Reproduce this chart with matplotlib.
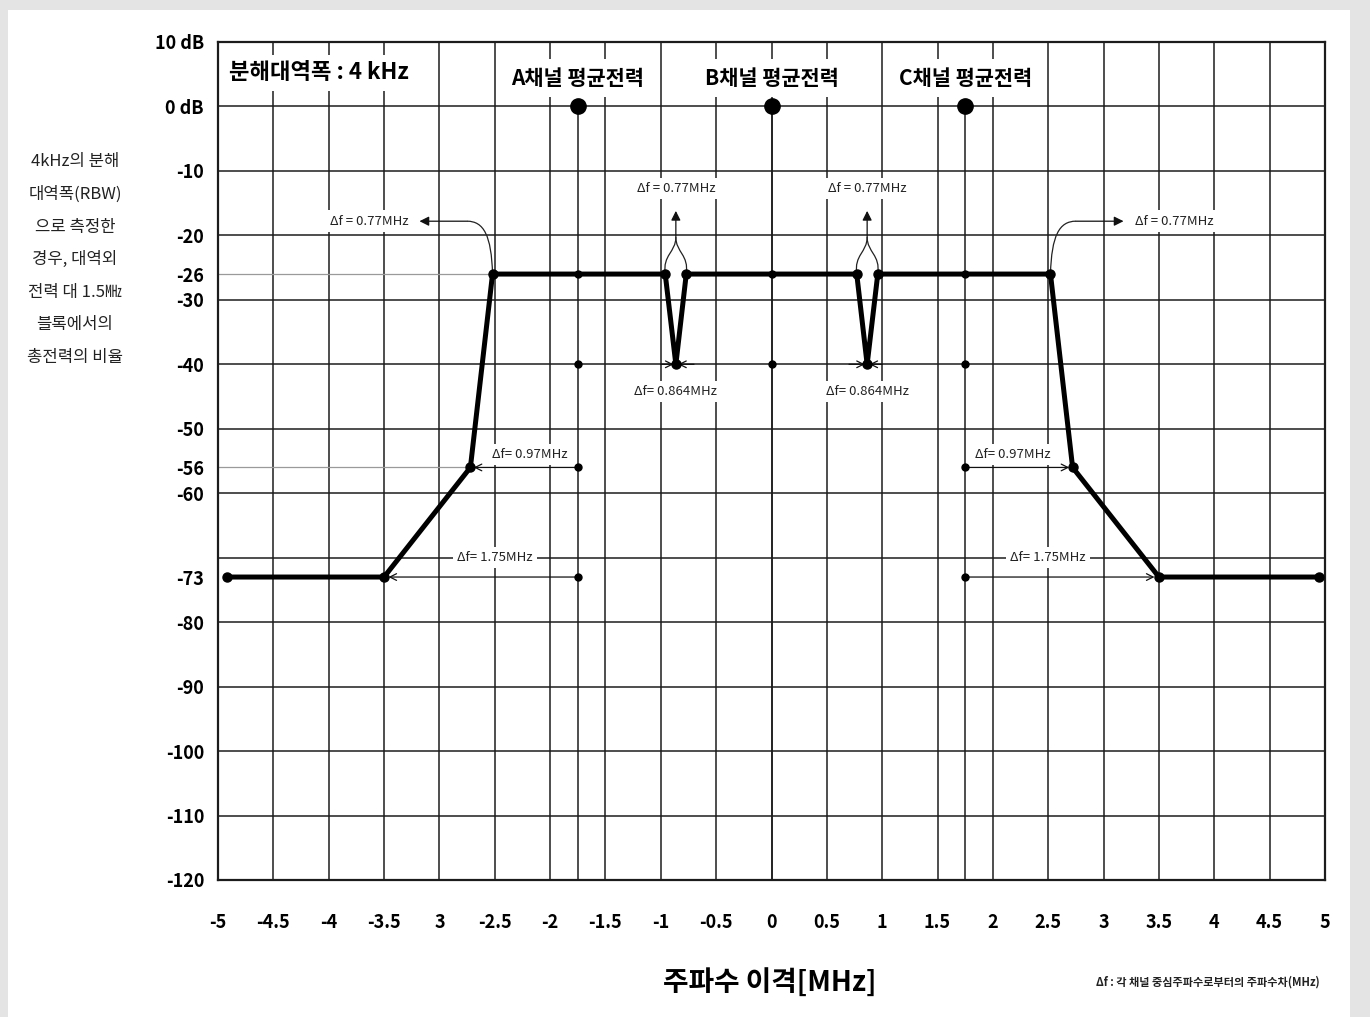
import matplotlib
matplotlib.use("Agg")
import matplotlib.pyplot as plt
from matplotlib.path import Path
from matplotlib.patches import PathPatch, Rectangle

plt.rcParams["font.family"] = ["Noto Sans CJK KR", "DejaVu Sans"]

# ── data ──────────────────────────────────────
x_ticks = [-5, -4.5, -4, -3.5, -3, -2.5, -2, -1.5, -1, -0.5, 0,
           0.5, 1, 1.5, 2, 2.5, 3, 3.5, 4, 4.5, 5]
x_tick_labels = ["-5", "-4.5", "-4", "-3.5", "3", "-2.5", "-2", "-1.5", "-1", "-0.5", "0",
                 "0.5", "1", "1.5", "2", "2.5", "3", "3.5", "4", "4.5", "5"]
y_ticks = [10, 0, -10, -20, -26, -30, -40, -50, -56, -60, -73, -80, -90, -100, -110, -120]
y_tick_labels = ["10 dB", "0 dB", "-10", "-20", "-26", "-30", "-40", "-50", "-56", "-60",
                 "-73", "-80", "-90", "-100", "-110", "-120"]
y_grid = [0, -10, -20, -30, -40, -50, -60, -70, -80, -90, -100, -110]

# 마스크 (MHz, dB)
mask_freq = [-4.92, -3.5, -2.72, -2.52, -0.96, -0.864, -0.77,
             0.77, 0.864, 0.96, 2.52, 2.72, 3.5, 4.95]
mask_level = [-73, -73, -56, -26, -26, -40, -26,
              -26, -40, -26, -26, -56, -73, -73]

channel_freq = [-1.75, 0, 1.75]
channel_names = ["A채널 평균전력", "B채널 평균전력", "C채널 평균전력"]
channel_power = 0
center_dot_levels = [-26, -40]      # 세 채널 중심선 위
side_dot_levels = [-56, -73]        # A, C 채널 중심선 위

df_edge = 0.77
df_notch = 0.864
df_mid = 0.97
df_far = 1.75

rbw_text = "분해대역폭 : 4 kHz"
ylabel_lines = ["4kHz의 분해", "대역폭(RBW)", "으로 측정한", "경우, 대역외",
                "전력 대 1.5㎒", "블록에서의", "총전력의 비율"]
xlabel_text = "주파수 이격[MHz]"
footnote_text = "Δf : 각 채널 중심주파수로부터의 주파수차(MHz)"

# ── figure ────────────────────────────────────
W, H = 1370, 1017
fig = plt.figure(figsize=(W / 100, H / 100), dpi=100)
fig.patch.set_facecolor("#e4e4e4")
fig.add_artist(Rectangle((8 / W, 0), (1350 - 8) / W, 1 - 10 / H,
                         transform=fig.transFigure, facecolor="white",
                         edgecolor="none", zorder=0))

ax = fig.add_axes([218 / W, 1 - 880 / H, (1325 - 218) / W, (880 - 42) / H])
ax.set_xlim(-5, 5)
ax.set_ylim(-120, 10)

grid_kw = dict(color="#1c1c1c", lw=1.1, zorder=1)
for v in x_ticks[1:-1]:
    ax.axvline(v, **grid_kw)
for h in y_grid:
    ax.axhline(h, **grid_kw)
for c in channel_freq:
    ax.plot([c, c], [-120, channel_power], **grid_kw)

# -26, -56 보조선
ax.plot([-5, mask_freq[3]], [-26, -26], color="#9a9a9a", lw=0.9, zorder=1)
ax.plot([-5, mask_freq[2]], [-56, -56], color="#9a9a9a", lw=0.9, zorder=1)

for s in ax.spines.values():
    s.set_linewidth(1.6)
    s.set_color("#1c1c1c")

ax.set_xticks(x_ticks, x_tick_labels)
ax.set_yticks(y_ticks, y_tick_labels)
ax.tick_params(axis="x", length=0, labelsize=13, pad=24)
ax.tick_params(axis="y", length=0, labelsize=13, pad=10)
for lbl in ax.get_xticklabels() + ax.get_yticklabels():
    lbl.set_fontweight("bold")

# 마스크 선
ax.plot(mask_freq, mask_level, color="black", lw=3.6, marker="o", ms=6.5,
        solid_joinstyle="round", zorder=5, clip_on=False)

# 채널 중심 점
ax.plot(channel_freq, [channel_power] * 3, "o", color="black", ms=11, zorder=6)
for lev in center_dot_levels:
    ax.plot(channel_freq, [lev] * 3, "o", color="black", ms=5, zorder=6)
for lev in side_dot_levels:
    ax.plot([channel_freq[0], channel_freq[2]], [lev] * 2, "o", color="black", ms=5, zorder=6)

box = dict(facecolor="white", edgecolor="none", pad=3)
ax.text(-4.9, 5.2, rbw_text, ha="left", va="center", fontsize=16, fontweight="bold",
        bbox=dict(facecolor="white", edgecolor="none", pad=5), zorder=2.2)
for c, name in zip(channel_freq, channel_names):
    ax.text(c, 4.4, name, ha="center", va="center", fontsize=15, fontweight="bold",
            bbox=dict(facecolor="white", edgecolor="none", pad=6), zorder=2.2)

small = dict(fontsize=9.5, color="#222222", zorder=3, bbox=box)

def curve(p0, p1, p2, p3):
    path = Path([p0, p1, p2, p3], [Path.MOVETO, Path.CURVE4, Path.CURVE4, Path.CURVE4])
    ax.add_patch(PathPatch(path, facecolor="none", edgecolor="#222222", lw=0.9, zorder=4))

def arrow(x0, y0, x1, y1, filled=True):
    style = "-|>" if filled else "->"
    ax.annotate("", xy=(x1, y1), xytext=(x0, y0),
                arrowprops=dict(arrowstyle=style, color="#111111", lw=0.9,
                                mutation_scale=14 if filled else 12,
                                shrinkA=0, shrinkB=0), zorder=4)

# 양쪽 끝 0.77 MHz 곡선 화살표
for sgn in (-1, 1):
    xc = sgn * (channel_freq[2] + df_edge)
    curve((xc, -26), (xc + sgn * 0.01, -20), (xc + sgn * 0.08, -17.8), (xc + sgn * 0.23, -17.8))
    arrow(xc + sgn * 0.23, -17.8, xc + sgn * 0.66, -17.8)
    ax.text(xc + sgn * 0.76, -17.8, f"Δf = {df_edge}MHz", ha="left" if sgn > 0 else "right",
            va="center", **small)

# 노치 위 0.77 MHz 화살표, 아래 0.864 MHz
for sgn in (-1, 1):
    xn = sgn * df_notch
    xa, xb = sgn * 0.96, sgn * df_edge
    for xt in (xa, xb):
        out = 0.025 if abs(xt) > abs(xn) else -0.025
        curve((xt, -26), (xt + sgn * out, -23), (xn, -22.6), (xn, -20.3))
    arrow(xn, -20.3, xn, -16.2)
    ax.text(xn, -12.7, f"Δf = {df_edge}MHz", ha="center", va="center", **small)
    arrow(sgn * 1.0, -40, sgn * 0.885, -40, filled=False)
    arrow(sgn * 0.70, -40, sgn * 0.843, -40, filled=False)
    ax.text(xn, -44.2, f"Δf= {df_notch}MHz", ha="center", va="center", **small)

# 0.97, 1.75 MHz 수평 화살표
for sgn in (-1, 1):
    c = channel_freq[1 + sgn]
    arrow(c, -56, c + sgn * (df_mid - 0.03), -56, filled=False)
    ax.text(c + sgn * 0.43, -54, f"Δf= {df_mid}MHz", ha="center", va="center", **small)
    arrow(c, -73, c + sgn * (df_far - 0.04), -73, filled=False)
    ax.text(sgn * 2.5, -70, f"Δf= {df_far}MHz", ha="center", va="center", **small)

# 축 설명
fig.text(75 / W, 1 - 259.5 / H, "\n".join(ylabel_lines), ha="center", va="center",
         fontsize=12, linespacing=2.19, color="#222222")
fig.text(770 / W, 1 - 982 / H, xlabel_text, ha="center", va="center",
         fontsize=20, fontweight="bold")
fig.text(1320 / W, 1 - 982 / H, footnote_text, ha="right", va="center",
         fontsize=8, fontweight="bold", color="#222222")

plt.savefig("out.png", dpi=100, facecolor=fig.get_facecolor())
